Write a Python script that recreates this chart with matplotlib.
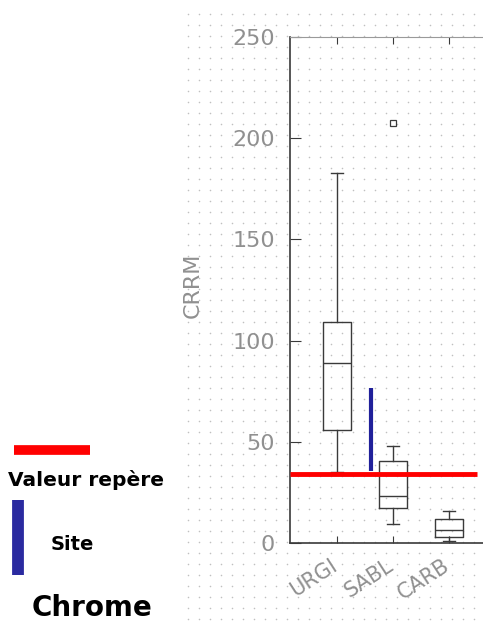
import numpy as np
import matplotlib
matplotlib.use('Agg')
import matplotlib.pyplot as plt
import matplotlib.transforms as mtransforms
from matplotlib.lines import Line2D

# data
sites = ['URGI', 'SABL', 'CARB']
q1 = [55.8, 17.4, 2.8]
med = [88.9, 23.4, 6.4]
q3 = [109.3, 40.5, 11.7]
whislo = [35.2, 9.2, 1.0]
whishi = [182.8, 48.1, 16.0]
fliers = [[], [207.5], []]

valeur_repere = 34.1          # red reference line
site_range = (35.7, 76.6)     # blue "Site" bar
site_pos = 1.61

W, H = 483, 621
fig = plt.figure(figsize=(W / 100, H / 100), dpi=100)

# dotted background texture
bg = fig.add_axes([0, 0, 1, 1], zorder=0)
bg.set_xlim(0, W)
bg.set_ylim(H, 0)
bg.axis('off')
gx, gy = np.meshgrid(np.arange(188, W, 11), np.arange(14, H, 11))
bg.scatter(gx.ravel(), gy.ravel(), s=1.3, color='#c0c0c0', linewidths=0)

# main axes (runs off the right edge like the original)
ax = fig.add_axes([290 / W, 78 / H, 215 / W, 506 / H], zorder=1)
ax.set_facecolor('none')

stats = []
for i, name in enumerate(sites):
    stats.append(dict(label=name, q1=q1[i], med=med[i], q3=q3[i],
                      whislo=whislo[i], whishi=whishi[i], fliers=fliers[i]))

lc = '#3a3a3a'
ax.bxp(stats, positions=[1, 2, 3], widths=0.5, capwidths=0.2,
       boxprops=dict(color=lc, lw=1.0),
       medianprops=dict(color=lc, lw=1.0),
       whiskerprops=dict(color=lc, lw=1.0),
       capprops=dict(color=lc, lw=1.0),
       flierprops=dict(marker='s', markersize=4, markerfacecolor='none',
                       markeredgecolor=lc, markeredgewidth=0.9))

ax.vlines(site_pos, site_range[0], site_range[1], color='#20209a', lw=3, zorder=3)
ax.hlines(valeur_repere, 0.16, 3.5, color='red', lw=3.5, zorder=4)

ax.set_xlim(0.16, 4.0)
ax.set_ylim(0, 250)
ax.set_yticks([0, 50, 100, 150, 200, 250])
gray = '#909090'
ax.tick_params(axis='y', direction='in', length=8, pad=11, labelsize=16,
               labelcolor=gray, color=lc)
ax.tick_params(axis='x', direction='in', length=5, top=True, pad=9,
               labelsize=15, labelcolor=gray, color=lc)
ax.set_xticks([1, 2, 3])
ax.set_xticklabels(sites, rotation=33, ha='right', rotation_mode='anchor')
shift = mtransforms.ScaledTranslation(-5 / 72, 0, fig.dpi_scale_trans)
for lab in ax.get_xticklabels():
    lab.set_transform(lab.get_transform() + shift)
ax.set_ylabel('CRRM', fontsize=16, color=gray)
ax.yaxis.set_label_coords((203 - 290) / 215, (543 - 285) / 506)

for s in ['left', 'bottom']:
    ax.spines[s].set_color(lc)
    ax.spines[s].set_linewidth(1.2)
ax.spines['top'].set_color('#9a9a9a')
ax.spines['right'].set_visible(False)

# legend drawn by hand on the left
fig.add_artist(Line2D([14 / W, 90 / W], [1 - 450 / H] * 2, color='red', lw=7,
                      solid_capstyle='butt'))
fig.text(8 / W, 1 - 480 / H, 'Valeur repère', fontsize=14.5, fontweight='bold',
         va='center', ha='left')
fig.add_artist(Line2D([18 / W] * 2, [1 - 500 / H, 1 - 575 / H], color='#2a2aa0',
                      lw=8.5, solid_capstyle='butt'))
fig.text(72 / W, 1 - 544 / H, 'Site', fontsize=14, fontweight='bold',
         va='center', ha='center')
fig.text(92 / W, 1 - 608 / H, 'Chrome', fontsize=20, fontweight='bold',
         va='center', ha='center')

fig.savefig('out.png', dpi=100)
